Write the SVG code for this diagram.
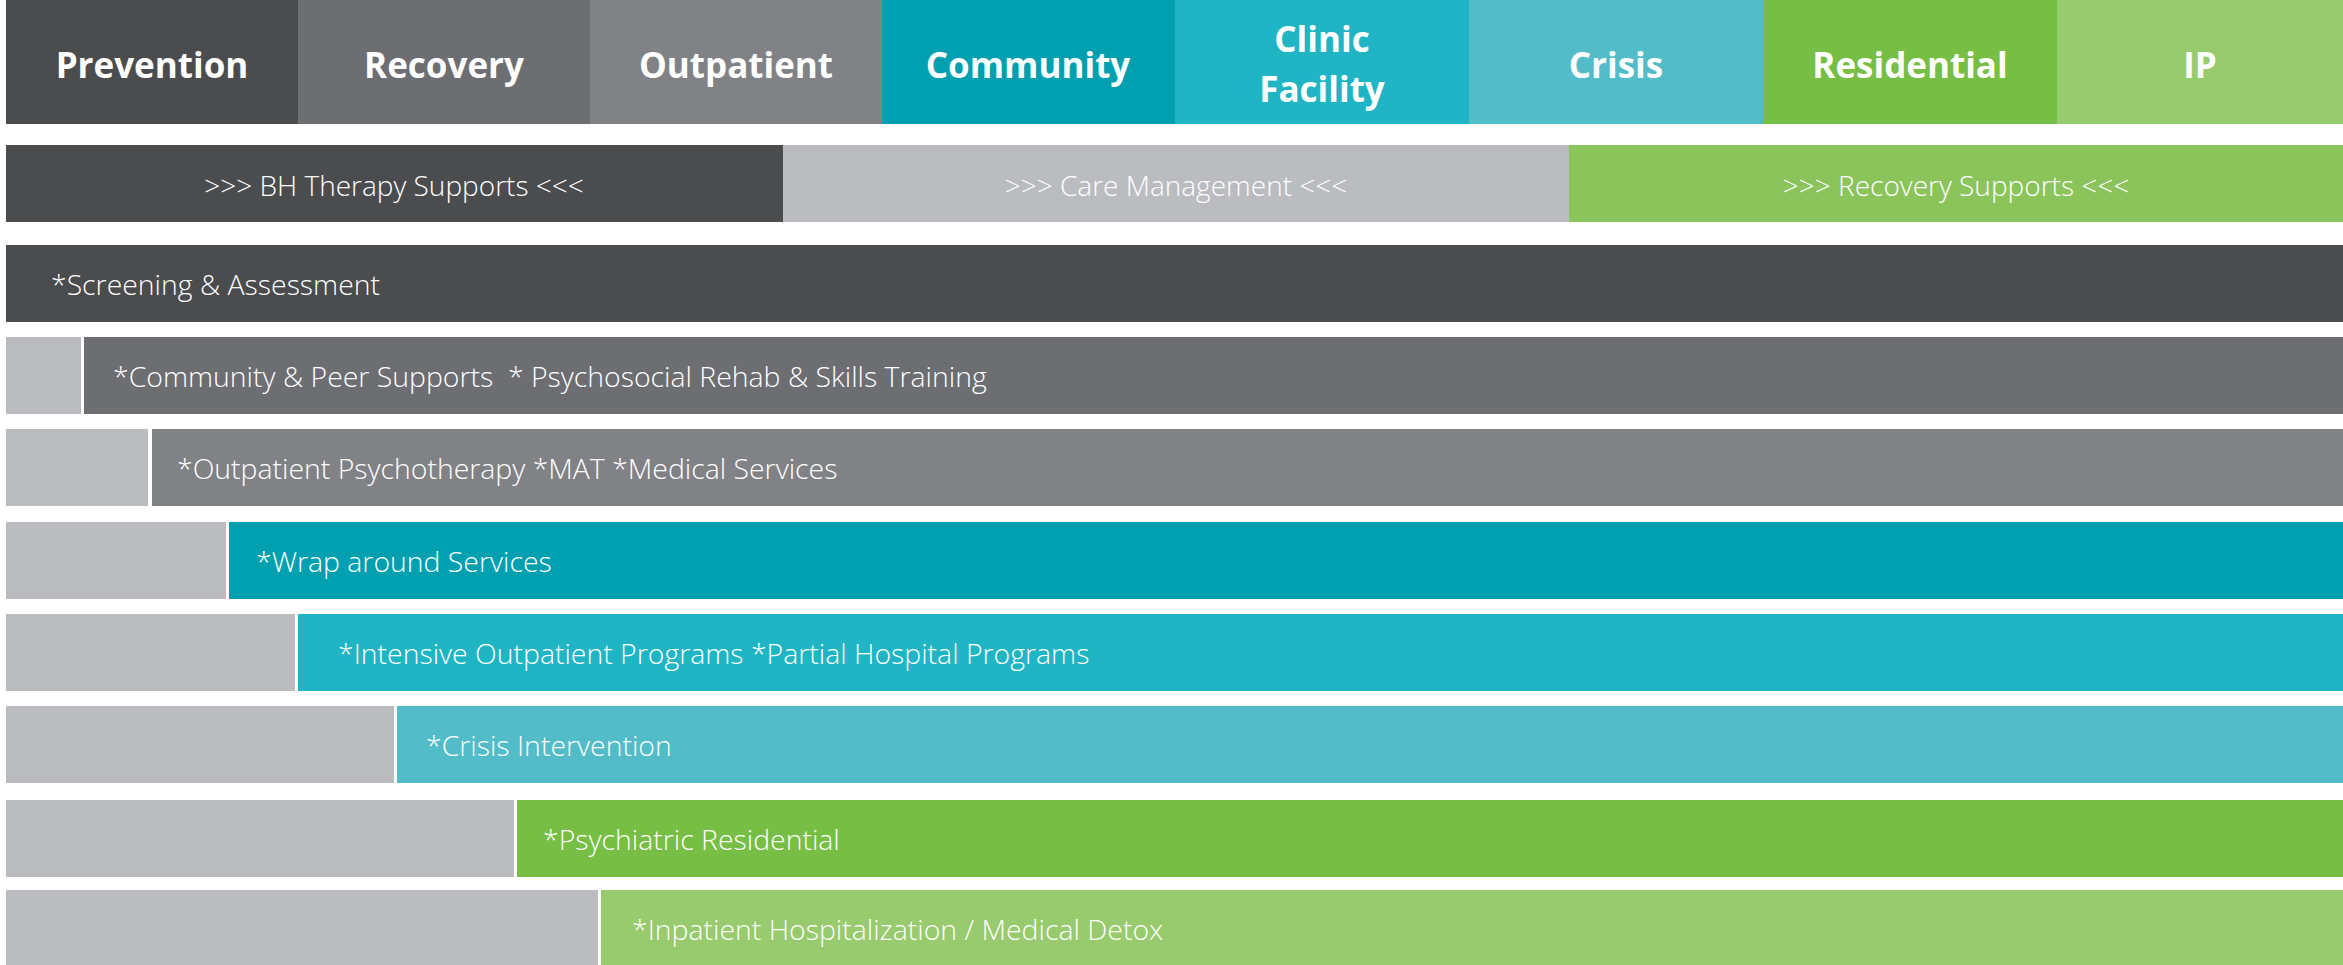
<svg xmlns="http://www.w3.org/2000/svg" width="2343" height="965" viewBox="0 0 2343 965">
<style>
.hd{font-family:"Open Sans","Liberation Sans",sans-serif;font-weight:700;font-size:35px;fill:#fff;text-anchor:middle}
.bn{font-family:"Open Sans","Liberation Sans",sans-serif;font-weight:300;font-size:28px;fill:#fff;text-anchor:middle}
.rt{font-family:"Open Sans","Liberation Sans",sans-serif;font-weight:300;font-size:28.4px;fill:#fff;white-space:pre}
.stub{fill:#bbbcc0}
</style>
<rect width="2343" height="965" fill="#fff"/>
<g id="headers">
<g id="h-prevention"><rect x="6" y="0" width="292" height="124" fill="#4b4c4e"/><text class="hd" x="152" y="78">Prevention</text></g>
<g id="h-recovery"><rect x="298" y="0" width="292" height="124" fill="#6d6e72"/><text class="hd" x="444" y="78">Recovery</text></g>
<g id="h-outpatient"><rect x="590" y="0" width="292" height="124" fill="#818286"/><text class="hd" x="736" y="78">Outpatient</text></g>
<g id="h-community"><rect x="882" y="0" width="293" height="124" fill="#00a0b0"/><text class="hd" x="1028" y="78">Community</text></g>
<g id="h-clinic"><rect x="1175" y="0" width="294" height="124" fill="#20b5c4"/><text class="hd" x="1322" y="52">Clinic</text><text class="hd" x="1322" y="102">Facility</text></g>
<g id="h-crisis"><rect x="1469" y="0" width="294" height="124" fill="#52bdc9"/><text class="hd" x="1616" y="78">Crisis</text></g>
<g id="h-residential"><rect x="1763" y="0" width="294" height="124" fill="#77be44"/><text class="hd" x="1910" y="78">Residential</text></g>
<g id="h-ip"><rect x="2057" y="0" width="286" height="124" fill="#98ca6e"/><text class="hd" x="2200" y="78">IP</text></g>
</g>
<g id="bands">
<g id="b-bh"><rect x="6" y="145" width="777" height="77" fill="#4b4c4e"/><text class="bn" x="394" y="196">&gt;&gt;&gt; BH Therapy Supports &lt;&lt;&lt;</text></g>
<g id="b-care"><rect x="783" y="145" width="786" height="77" fill="#bbbcc0"/><text class="bn" x="1176" y="196">&gt;&gt;&gt; Care Management &lt;&lt;&lt;</text></g>
<g id="b-recovery"><rect x="1569" y="145" width="774" height="77" fill="#8bc45b"/><text class="bn" x="1956" y="196">&gt;&gt;&gt; Recovery Supports &lt;&lt;&lt;</text></g>
</g>
<g id="rows">
<g id="r1"><rect x="6" y="245" width="2337" height="77" fill="#4b4c4e"/><text class="rt" x="51" y="294.5">*Screening &amp; Assessment</text></g>
<g id="r2"><rect class="stub" x="6" y="337" width="75" height="77"/><rect x="84" y="337" width="2259" height="77" fill="#6d6e72"/><text class="rt" x="113" y="386.5">*Community &amp; Peer Supports  * Psychosocial Rehab &amp; Skills Training</text></g>
<g id="r3"><rect class="stub" x="6" y="429" width="142" height="77"/><rect x="152" y="429" width="2191" height="77" fill="#818286"/><text class="rt" x="177" y="478.5">*Outpatient Psychotherapy *MAT *Medical Services</text></g>
<g id="r4"><rect class="stub" x="6" y="522" width="220" height="77"/><rect x="229" y="522" width="2114" height="77" fill="#00a0b0"/><text class="rt" x="256" y="571.5">*Wrap around Services</text></g>
<g id="r5"><rect class="stub" x="6" y="614" width="289" height="77"/><rect x="298" y="614" width="2045" height="77" fill="#20b5c4"/><text class="rt" x="338" y="663.5">*Intensive Outpatient Programs *Partial Hospital Programs</text></g>
<g id="r6"><rect class="stub" x="6" y="706" width="388" height="77"/><rect x="397" y="706" width="1946" height="77" fill="#52bdc9"/><text class="rt" x="426" y="755.5">*Crisis Intervention</text></g>
<g id="r7"><rect class="stub" x="6" y="800" width="508" height="77"/><rect x="517" y="800" width="1826" height="77" fill="#77be44"/><text class="rt" x="543" y="849.5">*Psychiatric Residential</text></g>
<g id="r8"><rect class="stub" x="6" y="890" width="592" height="75"/><rect x="601" y="890" width="1742" height="75" fill="#98ca6e"/><text class="rt" x="632" y="939.5">*Inpatient Hospitalization / Medical Detox</text></g>
</g>
<g id="connectors"/>
</svg>
